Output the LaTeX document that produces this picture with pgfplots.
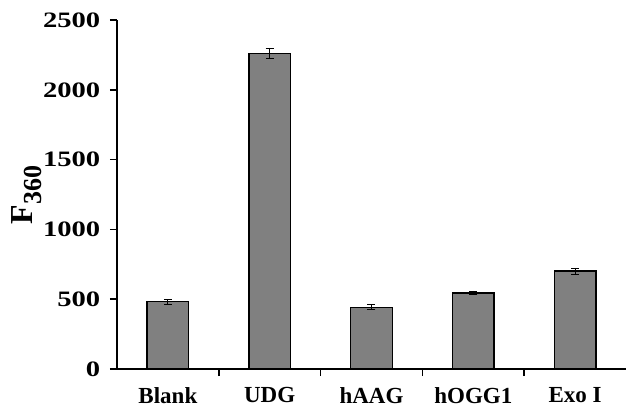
\documentclass[border=0pt]{standalone}
\usepackage{pgfplots}
\pgfplotsset{compat=1.18}
\usepackage{fontspec}
\setmainfont{Liberation Serif}
\definecolor{barfill}{HTML}{808080}
\begin{document}
\begin{tikzpicture}
\path[use as bounding box] (-117pt,-39pt) rectangle (509pt,369pt);
\begin{axis}[
  at={(0,0)}, anchor=south west,
  scale only axis, width=509pt, height=349pt,
  xmin=-0.5, xmax=4.5, ymin=0, ymax=2500,
  axis x line*=bottom, axis y line*=left,
  axis line style={line width=1.6pt, -},
  xtick={0,1,2,3,4},
  xticklabels={Blank,UDG,hAAG,hOGG1,Exo I},
  major x tick style={draw=none},
  minor xtick={0.5,1.5,2.5,3.5},
  minor x tick style={line width=1.6pt, black},
  minor tick length=7pt,
  ytick={0,500,1000,1500,2000,2500},
  ytick style={line width=1.6pt, black},
  major tick length=7pt,
  tick align=outside,
  /pgf/number format/assume math mode=true,
  /pgf/number format/1000 sep={},
  yticklabel style={font=\fontsize{22}{22}\selectfont\bfseries, xscale=1.3, xshift=-4pt},
  xticklabel style={font=\fontsize{23}{23}\selectfont\bfseries, yshift=-8pt},
  ylabel={\textbf{F\textsubscript{\fontsize{26}{26}\selectfont 360}}},
  ylabel style={font=\fontsize{32}{32}\selectfont\bfseries, at={(axis description cs:-0.178,0.5)}, anchor=center},
  clip=false,
]
\addplot[ybar, bar width=41.6pt, fill=barfill, draw=black, line width=1.3pt,
  error bars/.cd, y dir=both, y explicit,
  error bar style={line width=0.8pt, black},
  error mark options={rotate=90, mark size=4pt, line width=0.8pt, black}]
  table[x=x, y=y, y error=e] {
x y e
0 482 16
1 2262 38
2 443 18
3 545 14
4 702 22
};
\end{axis}
\end{tikzpicture}
\end{document}
